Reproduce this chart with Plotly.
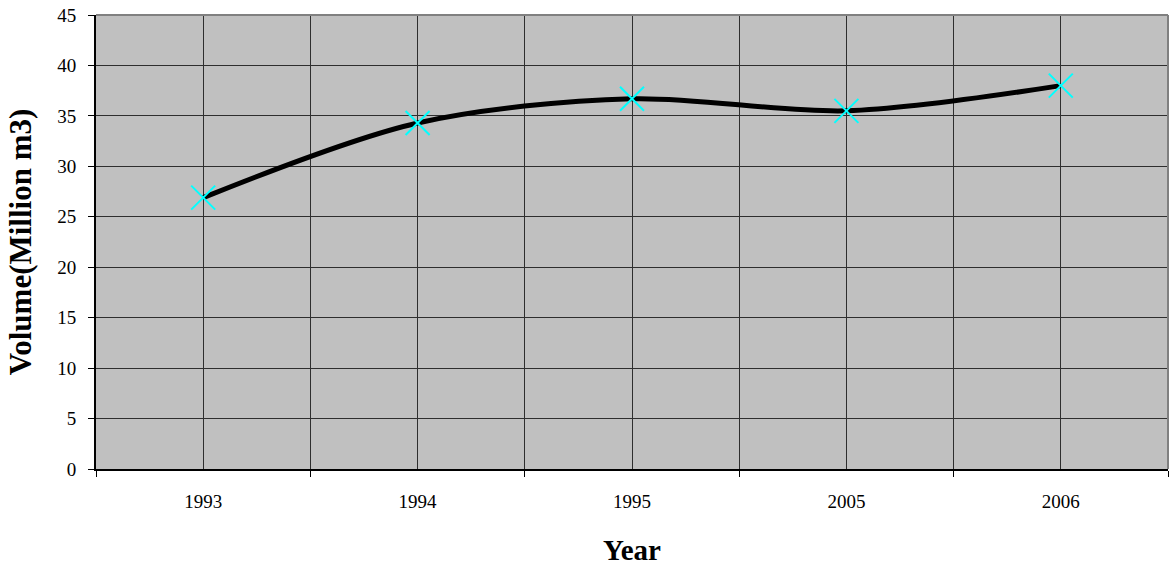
import plotly.graph_objects as go

years = ["1993", "1994", "1995", "2005", "2006"]
volume = [26.9, 34.3, 36.7, 35.5, 38.0]
y_ticks = [0, 5, 10, 15, 20, 25, 30, 35, 40, 45]

pos = list(range(len(years)))
edges = [p - 0.5 for p in pos] + [pos[-1] + 0.5]

serif = "Liberation Serif"
grid = "#2e2e2e"

fig = go.Figure(
    go.Scatter(
        x=pos,
        y=volume,
        mode="lines+markers",
        line=dict(color="black", width=5, shape="spline", smoothing=0.9),
        marker=dict(symbol="x-thin", size=24, color="#00FFFF",
                    line=dict(color="#00FFFF", width=2)),
        showlegend=False,
    )
)

fig.update_layout(
    width=1169,
    height=566,
    margin=dict(l=96, r=1, t=15, b=97),
    paper_bgcolor="white",
    plot_bgcolor="#C0C0C0",
    font=dict(family=serif, color="black"),
    shapes=[
        dict(type="line", xref="paper", yref="paper", x0=0, x1=1, y0=1, y1=1,
             line=dict(color="#808080", width=2)),
        dict(type="line", xref="paper", yref="paper", x0=1, x1=1, y0=0, y1=1,
             line=dict(color="#808080", width=2)),
    ],
)

fig.update_xaxes(
    range=[edges[0], edges[-1]],
    tickvals=pos,
    ticktext=years,
    ticks="",
    ticklabelstandoff=14,
    showgrid=True,
    gridcolor=grid,
    gridwidth=1,
    zeroline=False,
    showline=True,
    linecolor="black",
    linewidth=2,
    tickfont=dict(family=serif, size=19),
    minor=dict(tickvals=edges, ticks="outside", ticklen=6, tickcolor="black",
               showgrid=True, gridcolor=grid, gridwidth=1),
    title=dict(text="<b>Year</b>", font=dict(family=serif, size=29), standoff=30),
)

fig.update_yaxes(
    range=[0, 45],
    tickvals=y_ticks,
    ticks="outside",
    ticklen=6,
    tickcolor="black",
    ticklabelstandoff=8,
    showgrid=True,
    gridcolor=grid,
    gridwidth=1,
    zeroline=False,
    showline=True,
    linecolor="black",
    linewidth=2,
    tickfont=dict(family=serif, size=19),
    title=dict(text="<b>Volume(Million m3)</b>", font=dict(family=serif, size=31), standoff=16),
)

fig.write_html("out.html")
